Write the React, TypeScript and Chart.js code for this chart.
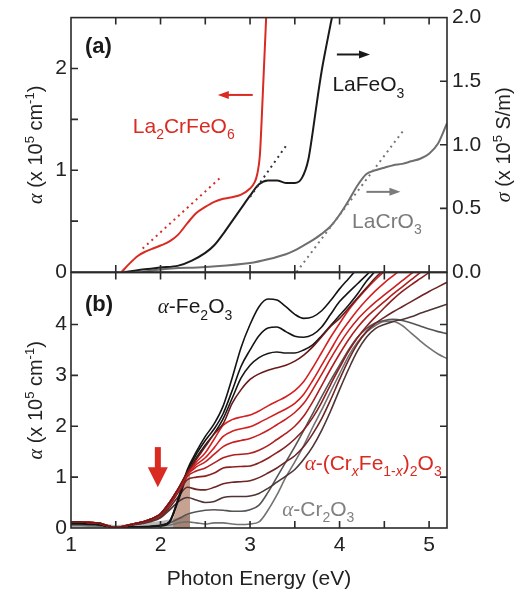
import React, { useEffect, useRef } from "react";
import { Chart, registerables } from "chart.js";
Chart.register(...registerables);

const SANS = '"Liberation Sans", Arial, Helvetica, sans-serif';
const SERIF = '"Liberation Serif", "Times New Roman", serif';
const RED = "#d92b22";
const INK = "#1a1a1a";
const GRAY = "#7b7b7b";
const FRAME = "#2a2a2a";
const TICK = 7;

// ---------- Panel (a) data ----------
const la2crfeo6Energy = [1.566, 1.65, 1.75, 1.83, 1.9, 2.0, 2.1, 2.2, 2.3, 2.4, 2.5, 2.6, 2.7, 2.8, 2.9, 3.0, 3.05, 3.08, 3.11, 3.13, 3.15, 3.17, 3.19];
const la2crfeo6Alpha = [0, 0.08, 0.16, 0.2, 0.225, 0.26, 0.3, 0.37, 0.48, 0.58, 0.64, 0.69, 0.72, 0.735, 0.76, 0.82, 0.88, 0.96, 1.15, 1.5, 1.9, 2.3, 2.7];
const lafeo3Energy = [1.6, 1.8, 2.0, 2.2, 2.35, 2.5, 2.6, 2.7, 2.8, 2.9, 3.0, 3.1, 3.2, 3.3, 3.4, 3.5, 3.58, 3.65, 3.7, 3.75, 3.8, 3.85, 3.9, 3.95];
const lafeo3Sigma = [0, 0.02, 0.035, 0.05, 0.09, 0.15, 0.21, 0.3, 0.4, 0.5, 0.6, 0.69, 0.72, 0.72, 0.7, 0.7, 0.74, 0.88, 1.1, 1.35, 1.58, 1.77, 1.95, 2.12];
const lacro3Energy = [1.8, 2.0, 2.5, 3.0, 3.2, 3.4, 3.5, 3.6, 3.7, 3.8, 3.9, 4.0, 4.1, 4.2, 4.3, 4.4, 4.5, 4.6, 4.7, 4.8, 4.9, 5.0, 5.1, 5.2];
const lacro3Sigma = [0, 0.02, 0.04, 0.07, 0.1, 0.14, 0.17, 0.21, 0.25, 0.3, 0.36, 0.45, 0.56, 0.68, 0.77, 0.8, 0.82, 0.84, 0.85, 0.87, 0.89, 0.93, 1.01, 1.17];
const la2crfeo6FitEnergy = [1.8, 2.66];
const la2crfeo6FitAlpha = [0.23, 0.92];
const lafeo3FitEnergy = [3.0, 3.41];
const lafeo3FitSigma = [0.59, 1.0];
const lacro3FitEnergy = [3.52, 4.71];
const lacro3FitSigma = [0, 1.11];

// ---------- Panel (b) data ----------
const bEnergy = [1.0, 1.1, 1.2, 1.3, 1.4, 1.5, 1.6, 1.7, 1.8, 1.9, 2.0, 2.1, 2.2, 2.3, 2.4, 2.5, 2.6, 2.7, 2.8, 2.9, 3.0, 3.1, 3.2, 3.3, 3.4, 3.5, 3.6, 3.7, 3.8, 3.9, 4.0, 4.1, 4.2, 4.3, 4.4, 4.5, 4.6, 4.7, 4.8, 4.9, 5.0, 5.1, 5.2];
const curveFe2O3 = [0.09, 0.09, 0.08, 0.07, 0.04, 0.01, 0.01, 0.02, 0.02, 0.03, 0.05, 0.13, 0.6, 1.15, 1.5, 1.8, 2.05, 2.4, 2.95, 3.55, 4.0, 4.35, 4.5, 4.48, 4.35, 4.2, 4.12, 4.15, 4.27, 4.47, 4.7, 4.9, 5.1, 5.3, 5.5, 5.7, 5.85, 6.0, 6.1, 6.2, 6.3, 6.4, 6.5];
const curveB2 = [0.09, 0.09, 0.08, 0.07, 0.04, 0.01, 0.01, 0.02, 0.02, 0.03, 0.05, 0.12, 0.57, 1.1, 1.45, 1.72, 1.95, 2.25, 2.7, 3.18, 3.5, 3.78, 3.93, 3.95, 3.86, 3.77, 3.75, 3.8, 3.95, 4.2, 4.45, 4.63, 4.8, 4.97, 5.15, 5.35, 5.5, 5.65, 5.8, 5.9, 6.0, 6.1, 6.2];
const curveB3 = [0.09, 0.09, 0.08, 0.07, 0.04, 0.01, 0.01, 0.02, 0.02, 0.03, 0.04, 0.11, 0.54, 1.06, 1.38, 1.63, 1.86, 2.15, 2.55, 2.95, 3.2, 3.35, 3.43, 3.46, 3.44, 3.44, 3.5, 3.6, 3.78, 3.98, 4.18, 4.38, 4.6, 4.85, 5.05, 5.25, 5.4, 5.55, 5.7, 5.8, 5.9, 6.0, 6.1];
const curveB4 = [0.12, 0.12, 0.11, 0.1, 0.05, 0.01, 0.04, 0.08, 0.12, 0.18, 0.28, 0.5, 0.78, 1.1, 1.35, 1.6, 1.85, 2.05, 2.45, 2.72, 2.92, 3.03, 3.1, 3.15, 3.2, 3.28, 3.4, 3.56, 3.76, 3.96, 4.12, 4.32, 4.52, 4.72, 4.92, 5.08, 5.24, 5.4, 5.55, 5.7, 5.8, 5.9, 6.0];
const curveB5 = [0.12, 0.12, 0.11, 0.1, 0.05, 0.01, 0.04, 0.08, 0.12, 0.18, 0.28, 0.5, 0.78, 1.08, 1.3, 1.48, 1.75, 2.02, 2.13, 2.18, 2.22, 2.3, 2.4, 2.49, 2.58, 2.7, 2.88, 3.15, 3.45, 3.75, 4.02, 4.28, 4.5, 4.7, 4.88, 5.04, 5.2, 5.35, 5.5, 5.6, 5.7, 5.8, 5.9];
const curveB6 = [0.12, 0.12, 0.11, 0.1, 0.05, 0.01, 0.04, 0.08, 0.12, 0.18, 0.28, 0.5, 0.78, 1.07, 1.25, 1.38, 1.58, 1.8, 1.9, 1.95, 1.99, 2.07, 2.16, 2.25, 2.34, 2.45, 2.63, 2.9, 3.2, 3.5, 3.8, 4.05, 4.28, 4.48, 4.66, 4.82, 4.96, 5.1, 5.24, 5.36, 5.48, 5.6, 5.7];
const curveB7 = [0.12, 0.12, 0.11, 0.1, 0.05, 0.01, 0.04, 0.08, 0.12, 0.18, 0.28, 0.5, 0.77, 1.05, 1.2, 1.3, 1.45, 1.6, 1.68, 1.72, 1.76, 1.83, 1.92, 2.03, 2.14, 2.27, 2.45, 2.72, 3.02, 3.33, 3.62, 3.88, 4.1, 4.28, 4.44, 4.58, 4.72, 4.86, 5.0, 5.12, 5.24, 5.36, 5.48];
const curveB8 = [0.12, 0.12, 0.11, 0.1, 0.05, 0.01, 0.04, 0.08, 0.12, 0.18, 0.27, 0.48, 0.75, 1.02, 1.12, 1.18, 1.28, 1.38, 1.43, 1.45, 1.47, 1.53, 1.62, 1.74, 1.86, 2.0, 2.2, 2.48, 2.8, 3.12, 3.42, 3.7, 3.94, 4.14, 4.3, 4.45, 4.6, 4.74, 4.88, 5.02, 5.14, 5.26, 5.38];
const curveB9 = [0.12, 0.12, 0.11, 0.1, 0.05, 0.01, 0.04, 0.08, 0.12, 0.17, 0.25, 0.45, 0.7, 0.95, 1.0, 1.02, 1.08, 1.18, 1.2, 1.21, 1.22, 1.28, 1.37, 1.48, 1.6, 1.75, 1.93, 2.17, 2.47, 2.82, 3.15, 3.47, 3.74, 3.96, 4.15, 4.33, 4.5, 4.65, 4.78, 4.9, 5.02, 5.12, 5.22];
const curveB10 = [0.11, 0.11, 0.1, 0.09, 0.05, 0.01, 0.03, 0.07, 0.1, 0.15, 0.22, 0.4, 0.62, 0.8, 0.76, 0.75, 0.8, 0.87, 0.9, 0.91, 0.93, 0.99, 1.08, 1.18, 1.3, 1.42, 1.6, 1.85, 2.15, 2.52, 2.92, 3.3, 3.62, 3.86, 4.02, 4.14, 4.25, 4.35, 4.45, 4.55, 4.65, 4.74, 4.83];
const curveB11 = [0.1, 0.1, 0.09, 0.08, 0.04, 0.01, 0.03, 0.06, 0.09, 0.13, 0.2, 0.35, 0.52, 0.6, 0.55, 0.5, 0.52, 0.6, 0.62, 0.62, 0.63, 0.68, 0.78, 0.9, 1.02, 1.15, 1.35, 1.6, 1.92, 2.3, 2.72, 3.12, 3.48, 3.75, 3.92, 4.0, 4.06, 4.1, 4.15, 4.22, 4.28, 4.34, 4.4];
const curveB12 = [0.07, 0.07, 0.06, 0.05, 0.03, 0.01, 0.01, 0.02, 0.03, 0.04, 0.06, 0.1, 0.18, 0.27, 0.32, 0.35, 0.36, 0.35, 0.33, 0.33, 0.36, 0.45, 0.7, 1.0, 1.3, 1.6, 1.92, 2.25, 2.58, 2.9, 3.2, 3.5, 3.75, 3.92, 4.03, 4.08, 4.1, 4.08, 4.03, 3.97, 3.91, 3.86, 3.82];
const curveCr2O3 = [0.05, 0.05, 0.04, 0.04, 0.02, 0.01, 0.01, 0.02, 0.02, 0.03, 0.04, 0.06, 0.1, 0.12, 0.1, 0.08, 0.1, 0.1, 0.08, 0.07, 0.08, 0.12, 0.35, 0.65, 1.0, 1.3, 1.62, 1.98, 2.32, 2.68, 3.03, 3.38, 3.65, 3.85, 3.98, 4.06, 4.06, 3.98, 3.83, 3.68, 3.54, 3.42, 3.33];
const bCurves = [curveFe2O3, curveB2, curveB3, curveB4, curveB5, curveB6, curveB7, curveB8, curveB9, curveB10, curveB11, curveB12, curveCr2O3];
const bColors = ["#141414", "#141414", "#181818", "#6b1a1a", "#d42222", "#d22020", "#c81e1e", "#ae2020", "#8c2020", "#6e2525", "#4e3535", "#555555", "#727272"];
const grayShadeEnergy = [1.0, 1.2, 1.4, 1.5, 1.6, 1.8, 2.0, 2.2, 2.33];
const grayShadeAlpha = [0.12, 0.11, 0.08, 0.06, 0.07, 0.1, 0.14, 0.2, 0.26];
const brownShadeEnergy = [2.14, 2.2, 2.25, 2.3, 2.33];
const brownShadeAlpha = [0.18, 0.5, 0.78, 1.0, 1.1];

// ---------- ticks ----------
const xTickEnergies = [1.5, 2, 2.5, 3, 3.5, 4, 4.5, 5];
const aAlphaTicks = [0.5, 1, 1.5, 2];
const aSigmaTicks = [0.5, 1.0, 1.5];
const bAlphaTicks = [1, 2, 3, 4];

type Seg = { t: string; sub?: boolean; sup?: boolean; it?: boolean; serif?: boolean; bold?: boolean };

const alphaTitle: Seg[] = [{ t: "α", it: true, serif: true }, { t: " (x 10" }, { t: "5", sup: true }, { t: " cm" }, { t: "-1", sup: true }, { t: ")" }];
const sigmaTitle: Seg[] = [{ t: "σ", it: true, serif: true }, { t: " (x 10" }, { t: "5", sup: true }, { t: " S/m)" }];

const panelALabels = [
  { segs: [{ t: "(a)", bold: true }] as Seg[], e: 1.156, v: 2.23, axis: "y", color: INK, size: 22 },
  { segs: [{ t: "La" }, { t: "2", sub: true }, { t: "CrFeO" }, { t: "6", sub: true }] as Seg[], e: 1.69, v: 1.44, axis: "y", color: RED, size: 21 },
  { segs: [{ t: "LaFeO" }, { t: "3", sub: true }] as Seg[], e: 3.92, v: 1.85, axis: "y", color: INK, size: 21 },
  { segs: [{ t: "LaCrO" }, { t: "3", sub: true }] as Seg[], e: 4.14, v: 0.51, axis: "y", color: GRAY, size: 21 },
];
const panelAArrows = [
  { from: 3.03, to: 2.64, v: 1.74, axis: "y", color: RED },
  { from: 3.97, to: 4.34, v: 1.71, axis: "y2", color: INK },
  { from: 4.3, to: 4.68, v: 0.63, axis: "y2", color: GRAY },
];
const panelBLabels = [
  { segs: [{ t: "(b)", bold: true }] as Seg[], e: 1.156, v: 4.43, color: INK, size: 22 },
  { segs: [{ t: "α", it: true, serif: true }, { t: "-Fe" }, { t: "2", sub: true }, { t: "O" }, { t: "3", sub: true }] as Seg[], e: 1.97, v: 4.37, color: INK, size: 21 },
  {
    segs: [{ t: "α", it: true, serif: true }, { t: "-(Cr" }, { t: "x", sub: true, it: true }, { t: "Fe" }, { t: "1-", sub: true }, { t: "x", sub: true, it: true }, { t: ")" }, { t: "2", sub: true }, { t: "O" }, { t: "3", sub: true }] as Seg[],
    e: 3.61, v: 1.29, color: RED, size: 21,
  },
  { segs: [{ t: "α", it: true, serif: true }, { t: "-Cr" }, { t: "2", sub: true }, { t: "O" }, { t: "3", sub: true }] as Seg[], e: 3.36, v: 0.39, color: "#808080", size: 21 },
];
const panelBArrow = { e: 1.97, from: 1.59, to: 0.8, color: RED };

function segFont(s: Seg, size: number) {
  const sz = s.sub || s.sup ? Math.round(size * 0.66) : size;
  return `${s.it ? "italic " : ""}${s.bold ? "bold " : ""}${sz}px ${s.serif ? SERIF : SANS}`;
}
function drawRich(ctx: CanvasRenderingContext2D, segs: Seg[], x: number, yMid: number, size: number, color: string, align: "left" | "center", rotate = false) {
  ctx.save();
  ctx.translate(x, yMid);
  if (rotate) ctx.rotate(-Math.PI / 2);
  let w = 0;
  for (const s of segs) { ctx.font = segFont(s, size); w += ctx.measureText(s.t).width; }
  let cx = align === "center" ? -w / 2 : 0;
  const base = size * 0.36;
  ctx.fillStyle = color;
  ctx.textBaseline = "alphabetic";
  ctx.textAlign = "left";
  for (const s of segs) {
    ctx.font = segFont(s, size);
    const dy = s.sub ? size * 0.3 : s.sup ? -size * 0.42 : 0;
    ctx.fillText(s.t, cx, base + dy);
    cx += ctx.measureText(s.t).width;
  }
  ctx.restore();
}
function drawHArrow(ctx: CanvasRenderingContext2D, x1: number, x2: number, y: number, color: string) {
  const dir = Math.sign(x2 - x1);
  ctx.save();
  ctx.strokeStyle = color; ctx.fillStyle = color; ctx.lineWidth = 2;
  ctx.beginPath(); ctx.moveTo(x1, y); ctx.lineTo(x2 - dir * 8, y); ctx.stroke();
  ctx.beginPath(); ctx.moveTo(x2, y); ctx.lineTo(x2 - dir * 11, y - 4); ctx.lineTo(x2 - dir * 11, y + 4); ctx.closePath(); ctx.fill();
  ctx.restore();
}

function line(xs: number[], ys: number[], color: string, width: number, yAxisID: string, dash: number[] = []) {
  return {
    data: xs.map((x, i) => ({ x, y: ys[i] })),
    borderColor: color, borderWidth: width, pointRadius: 0, fill: false,
    cubicInterpolationMode: "monotone", yAxisID, borderDash: dash,
  };
}

const tickFont = { family: SANS, size: 21 };

const overlayA = {
  id: "overlayA",
  afterDraw(chart: any) {
    const { ctx, chartArea: ca, scales } = chart;
    const xs = scales.x;
    ctx.save();
    ctx.strokeStyle = FRAME; ctx.lineWidth = 1.6;
    ctx.strokeRect(ca.left, ca.top, ca.right - ca.left, ca.bottom - ca.top);
    ctx.beginPath();
    for (const e of xTickEnergies) {
      const px = xs.getPixelForValue(e);
      ctx.moveTo(px, ca.top); ctx.lineTo(px, ca.top + TICK);
      ctx.moveTo(px, ca.bottom); ctx.lineTo(px, ca.bottom - TICK);
    }
    for (const v of aAlphaTicks) { const py = scales.y.getPixelForValue(v); ctx.moveTo(ca.left, py); ctx.lineTo(ca.left + TICK, py); }
    for (const v of aSigmaTicks) { const py = scales.y2.getPixelForValue(v); ctx.moveTo(ca.right, py); ctx.lineTo(ca.right - TICK, py); }
    ctx.stroke();
    for (const a of panelAArrows) {
      drawHArrow(ctx, xs.getPixelForValue(a.from), xs.getPixelForValue(a.to), scales[a.axis].getPixelForValue(a.v), a.color);
    }
    for (const l of panelALabels) {
      drawRich(ctx, l.segs, xs.getPixelForValue(l.e), scales[l.axis].getPixelForValue(l.v), l.size, l.color, "left");
    }
    const mid = (ca.top + ca.bottom) / 2;
    drawRich(ctx, alphaTitle, 35, mid, 20, "#222", "center", true);
    drawRich(ctx, sigmaTitle, 503, mid, 20, "#222", "center", true);
    ctx.restore();
  },
};

const overlayB = {
  id: "overlayB",
  afterDraw(chart: any) {
    const { ctx, chartArea: ca, scales } = chart;
    const xs = scales.x, ys = scales.y;
    ctx.save();
    ctx.strokeStyle = FRAME; ctx.lineWidth = 1.6;
    ctx.strokeRect(ca.left, ca.top, ca.right - ca.left, ca.bottom - ca.top);
    ctx.beginPath();
    for (const e of xTickEnergies) {
      const px = xs.getPixelForValue(e);
      ctx.moveTo(px, ca.top); ctx.lineTo(px, ca.top + TICK);
      ctx.moveTo(px, ca.bottom); ctx.lineTo(px, ca.bottom - TICK);
    }
    for (const v of bAlphaTicks) {
      const py = ys.getPixelForValue(v);
      ctx.moveTo(ca.left, py); ctx.lineTo(ca.left + TICK, py);
      ctx.moveTo(ca.right, py); ctx.lineTo(ca.right - TICK, py);
    }
    ctx.stroke();
    const ax = xs.getPixelForValue(panelBArrow.e);
    const ay1 = ys.getPixelForValue(panelBArrow.from);
    const ay2 = ys.getPixelForValue(panelBArrow.to);
    ctx.fillStyle = panelBArrow.color;
    ctx.fillRect(ax - 3, ay1, 6, ay2 - ay1 - 18);
    ctx.beginPath(); ctx.moveTo(ax, ay2); ctx.lineTo(ax - 10, ay2 - 20); ctx.lineTo(ax + 10, ay2 - 20); ctx.closePath(); ctx.fill();
    for (const l of panelBLabels) {
      drawRich(ctx, l.segs, xs.getPixelForValue(l.e), ys.getPixelForValue(l.v), l.size, l.color, "left");
    }
    drawRich(ctx, alphaTitle, 35, (ca.top + ca.bottom) / 2, 20, "#222", "center", true);
    ctx.restore();
  },
};

export default function App() {
  const refA = useRef<HTMLCanvasElement>(null);
  const refB = useRef<HTMLCanvasElement>(null);

  useEffect(() => {
    const chartA = new Chart(refA.current!, {
      type: "line",
      data: {
        datasets: [
          line(la2crfeo6FitEnergy, la2crfeo6FitAlpha, RED, 2, "y", [2, 4]),
          line(lafeo3FitEnergy, lafeo3FitSigma, "#333", 2, "y2", [2, 4]),
          line(lacro3FitEnergy, lacro3FitSigma, "#777", 2, "y2", [2, 4]),
          line(la2crfeo6Energy, la2crfeo6Alpha, RED, 2, "y"),
          line(lafeo3Energy, lafeo3Sigma, INK, 2, "y2"),
          line(lacro3Energy, lacro3Sigma, "#6e6e6e", 2, "y2"),
        ] as any,
      },
      options: {
        responsive: false, animation: false, devicePixelRatio: 1,
        layout: { padding: { top: 16, bottom: 18, left: 0, right: 0 } },
        plugins: { legend: { display: false }, tooltip: { enabled: false } },
        scales: {
          x: { type: "linear", min: 1, max: 5.2, display: false },
          y: {
            type: "linear", position: "left", min: 0, max: 2.5,
            afterFit: (s: any) => { s.width = 71; },
            grid: { display: false, drawTicks: false }, border: { display: false },
            ticks: { stepSize: 0.5, includeBounds: false, autoSkip: false, padding: 4, color: "#222", font: tickFont, callback: (v: any) => (Number.isInteger(v) ? String(v) : "") },
          },
          y2: {
            type: "linear", position: "right", min: 0, max: 2,
            afterFit: (s: any) => { s.width = 84; },
            grid: { display: false, drawTicks: false }, border: { display: false },
            ticks: { stepSize: 0.5, includeBounds: false, autoSkip: false, padding: 5, color: "#222", font: tickFont, callback: (v: any) => Number(v).toFixed(1) },
          },
        },
      } as any,
      plugins: [overlayA],
    });

    const curveSets = bCurves.map((ys, i) => line(bEnergy, ys, bColors[i], 1.6, "y"));
    const chartB = new Chart(refB.current!, {
      type: "line",
      data: {
        datasets: [
          ...curveSets.slice(3, 9),
          ...curveSets.slice(0, 3),
          ...curveSets.slice(9),
          { ...line(brownShadeEnergy, brownShadeAlpha, "rgba(0,0,0,0)", 0, "y"), fill: "origin", backgroundColor: "rgba(150,85,55,0.55)" },
          { ...line(grayShadeEnergy, grayShadeAlpha, "rgba(0,0,0,0)", 0, "y"), fill: "origin", backgroundColor: "rgba(130,130,130,0.55)" },
        ] as any,
      },
      options: {
        responsive: false, animation: false, devicePixelRatio: 1,
        layout: { padding: { top: 16, bottom: 0, left: 0, right: 84 } },
        plugins: { legend: { display: false }, tooltip: { enabled: false } },
        scales: {
          x: {
            type: "linear", position: "bottom", min: 1, max: 5.2,
            afterFit: (s: any) => { s.height = 64; },
            grid: { display: false, drawTicks: false }, border: { display: false },
            ticks: { stepSize: 0.5, includeBounds: false, autoSkip: false, maxRotation: 0, padding: 5, color: "#222", font: tickFont, callback: (v: any) => (Number.isInteger(v) ? String(v) : "") },
            title: { display: true, text: "Photon Energy (eV)", color: "#222", font: { family: SANS, size: 21 }, padding: { top: 0, bottom: 0 } },
          },
          y: {
            type: "linear", position: "left", min: 0, max: 5.02,
            afterFit: (s: any) => { s.width = 71; },
            grid: { display: false, drawTicks: false }, border: { display: false },
            ticks: { stepSize: 1, includeBounds: false, autoSkip: false, padding: 4, color: "#222", font: tickFont, callback: (v: any) => (Number.isInteger(v) && v <= 4 ? String(v) : "") },
          },
        },
      } as any,
      plugins: [overlayB],
    });

    return () => { chartA.destroy(); chartB.destroy(); };
  }, []);

  return (
    <div style={{ position: "absolute", left: 0, top: 0, width: 531, height: 592, background: "#fff", overflow: "hidden" }}>
      <canvas ref={refA} width={531} height={290} style={{ position: "absolute", left: 0, top: 0 }} />
      <canvas ref={refB} width={531} height={336} style={{ position: "absolute", left: 0, top: 256 }} />
    </div>
  );
}
